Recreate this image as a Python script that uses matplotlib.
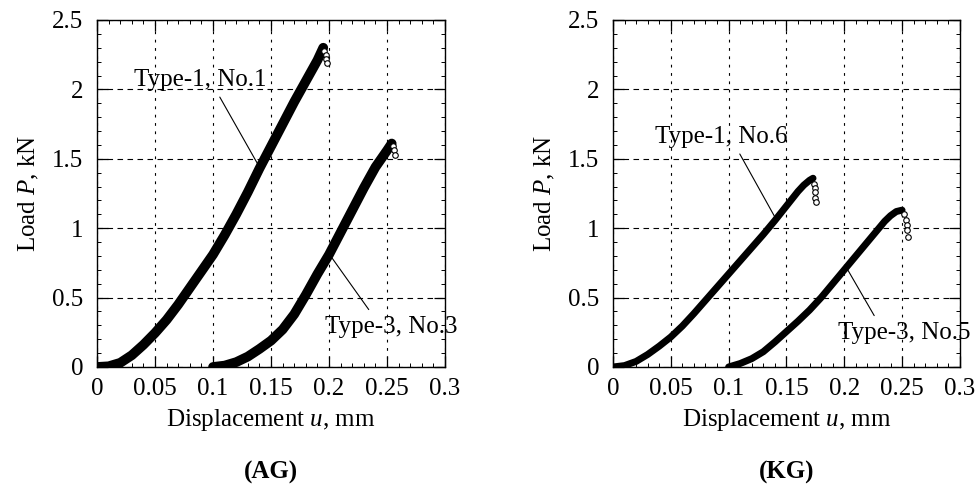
import matplotlib
matplotlib.use("Agg")
import matplotlib.pyplot as plt
from matplotlib.ticker import MultipleLocator

plt.rcParams['font.family'] = ['Liberation Serif', 'DejaVu Serif']
plt.rcParams['mathtext.fontset'] = 'custom'
plt.rcParams['mathtext.rm'] = 'Liberation Serif'
plt.rcParams['mathtext.it'] = 'Liberation Serif:italic'

# (AG) Type-1, No.1
ag1_u = [0, 0.01, 0.02, 0.03, 0.04, 0.05, 0.06, 0.07, 0.08, 0.09, 0.1, 0.11, 0.12,
         0.13, 0.14, 0.15, 0.16, 0.17, 0.18, 0.19, 0.195]
ag1_P = [0, 0.005, 0.03, 0.085, 0.16, 0.245, 0.34, 0.45, 0.57, 0.69, 0.81, 0.95, 1.1,
         1.26, 1.43, 1.59, 1.75, 1.91, 2.06, 2.21, 2.3]
ag1_drop_u = [0.196, 0.197, 0.197, 0.198]
ag1_drop_P = [2.28, 2.25, 2.22, 2.19]

# (AG) Type-3, No.3
ag3_u = [0.1, 0.11, 0.12, 0.13, 0.14, 0.15, 0.16, 0.17, 0.18, 0.19, 0.2, 0.21, 0.22,
         0.23, 0.24, 0.25, 0.254]
ag3_P = [0, 0.01, 0.035, 0.075, 0.13, 0.19, 0.27, 0.38, 0.52, 0.67, 0.81, 0.97, 1.13,
         1.29, 1.44, 1.56, 1.61]
ag3_drop_u = [0.2555, 0.256, 0.2565]
ag3_drop_P = [1.59, 1.56, 1.53]

# (KG) Type-1, No.6
kg6_u = [0, 0.01, 0.02, 0.03, 0.04, 0.05, 0.06, 0.07, 0.08, 0.09, 0.1, 0.11, 0.12,
         0.13, 0.14, 0.15, 0.16, 0.165, 0.17, 0.173]
kg6_P = [0, 0.01, 0.04, 0.09, 0.15, 0.216, 0.295, 0.385, 0.48, 0.575, 0.67, 0.765, 0.86,
         0.955, 1.055, 1.16, 1.265, 1.31, 1.345, 1.36]
kg6_drop_u = [0.174, 0.1745, 0.175, 0.175, 0.1755]
kg6_drop_P = [1.32, 1.29, 1.26, 1.22, 1.19]

# (KG) Type-3, No.5
kg5_u = [0.1, 0.11, 0.12, 0.13, 0.14, 0.15, 0.16, 0.17, 0.18, 0.19, 0.2, 0.21, 0.22,
         0.23, 0.235, 0.24, 0.245, 0.25]
kg5_P = [0, 0.025, 0.06, 0.11, 0.18, 0.255, 0.33, 0.41, 0.5, 0.6, 0.7, 0.8, 0.9,
         1.0, 1.05, 1.09, 1.12, 1.13]
kg5_drop_u = [0.252, 0.253, 0.254, 0.254, 0.255]
kg5_drop_P = [1.1, 1.06, 1.02, 0.99, 0.94]

x_ticks = [0, 0.05, 0.1, 0.15, 0.2, 0.25, 0.3]
x_labels = ['0', '0.05', '0.1', '0.15', '0.2', '0.25', '0.3']
y_ticks = [0, 0.5, 1, 1.5, 2, 2.5]
y_labels = ['0', '0.5', '1', '1.5', '2', '2.5']

FS = 18

fig = plt.figure(figsize=(9.79, 4.96), dpi=100)
ax1 = fig.add_axes([0.0991, 0.2601, 0.3555, 0.6996])
ax2 = fig.add_axes([0.6261, 0.2601, 0.3544, 0.6996])


def style(ax):
    ax.set_xlim(0, 0.3)
    ax.set_ylim(0, 2.5)
    ax.set_xticks(x_ticks)
    ax.set_xticklabels(x_labels)
    ax.set_yticks(y_ticks)
    ax.set_yticklabels(y_labels)
    ax.yaxis.set_minor_locator(MultipleLocator(0.1))
    ax.xaxis.set_minor_locator(MultipleLocator(0.01))
    ax.tick_params(which='major', direction='in', length=8, width=0.9,
                   top=True, right=True, labelsize=FS)
    ax.tick_params(axis='x', which='major', pad=8)
    ax.tick_params(axis='y', which='major', pad=10)
    ax.tick_params(which='minor', direction='in', length=3, width=0.7,
                   top=True, right=True)
    ax.grid(axis='y', color='black', linestyle=(0, (5, 4)), linewidth=0.8)
    ax.grid(axis='x', color='black', linestyle=(0, (2.5, 5)), linewidth=0.8)
    for s in ax.spines.values():
        s.set_linewidth(1.0)
    ax.set_xlabel('Displacement $u$, mm', fontsize=FS, labelpad=5)
    ax.set_ylabel('Load $P$, kN', fontsize=FS, labelpad=8)


style(ax1)
style(ax2)

# AG panel
ax1.plot(ag1_u, ag1_P, color='black', lw=7, solid_capstyle='round', solid_joinstyle='round')
ax1.plot(ag3_u, ag3_P, color='black', lw=7, solid_capstyle='round', solid_joinstyle='round')
ax1.plot(ag1_drop_u, ag1_drop_P, 'o', mfc='white', mec='black', ms=4, mew=0.8)
ax1.plot(ag3_drop_u, ag3_drop_P, 'o', mfc='white', mec='black', ms=4, mew=0.8)

ax1.annotate('Type-1, No.1', xy=(0.139, 1.455), xytext=(0.089, 2.07),
             ha='center', va='center', fontsize=FS,
             arrowprops=dict(arrowstyle='-', lw=0.8, color='black',
                             relpos=(0.62, 0), shrinkA=3, shrinkB=0))
ax1.annotate('Type-3, No.3', xy=(0.2026, 0.785), xytext=(0.254, 0.29),
             ha='center', va='center', fontsize=FS, annotation_clip=False,
             arrowprops=dict(arrowstyle='-', lw=0.8, color='black',
                             relpos=(0.36, 1), shrinkA=3, shrinkB=0))

# KG panel
ax2.plot(kg6_u, kg6_P, color='black', lw=5, solid_capstyle='round', solid_joinstyle='round')
ax2.plot(kg5_u, kg5_P, color='black', lw=5, solid_capstyle='round', solid_joinstyle='round')
ax2.plot(kg6_drop_u, kg6_drop_P, 'o', mfc='white', mec='black', ms=4, mew=0.8)
ax2.plot(kg5_drop_u, kg5_drop_P, 'o', mfc='white', mec='black', ms=4, mew=0.8)

ax2.annotate('Type-1, No.6', xy=(0.1407, 1.07), xytext=(0.094, 1.66),
             ha='center', va='center', fontsize=FS,
             arrowprops=dict(arrowstyle='-', lw=0.8, color='black',
                             relpos=(0.61, 0), shrinkA=3, shrinkB=0))
ax2.annotate('Type-3, No.5', xy=(0.203, 0.70), xytext=(0.252, 0.245),
             ha='center', va='center', fontsize=FS, annotation_clip=False,
             arrowprops=dict(arrowstyle='-', lw=0.8, color='black',
                             relpos=(0.3, 1), shrinkA=3, shrinkB=0))

fig.text(0.277, 0.048, '(AG)', ha='center', va='center', fontsize=FS, fontweight='bold')
fig.text(0.803, 0.048, '(KG)', ha='center', va='center', fontsize=FS, fontweight='bold')

fig.savefig('out.png', dpi=100)
